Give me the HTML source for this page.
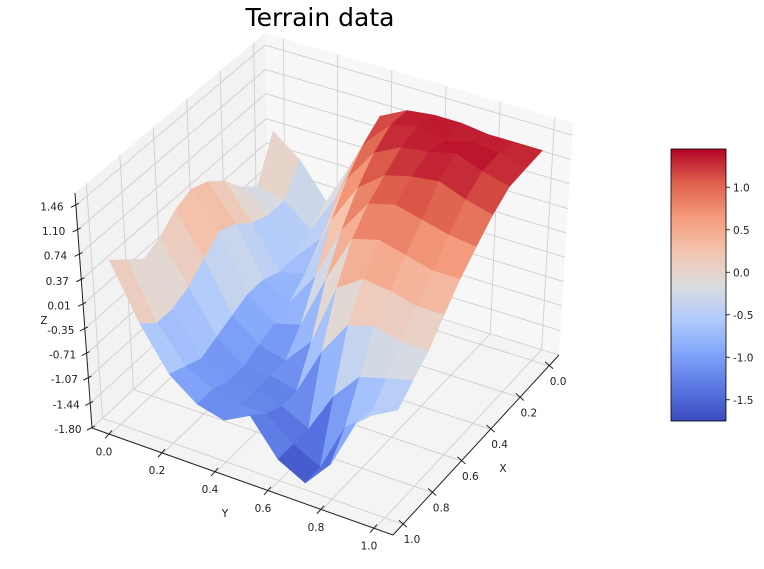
<!DOCTYPE html>
<html><head><meta charset="utf-8"><style>
body{margin:0;background:#fff;width:764px;height:564px;overflow:hidden;font-family:"Liberation Sans","DejaVu Sans",sans-serif}
svg text{font-family:"DejaVu Sans","Liberation Sans",sans-serif}
</style></head><body>
<svg id="chart" width="764" height="564" viewBox="0 0 764 564" xmlns="http://www.w3.org/2000/svg">
<text x="320" y="26" font-size="25" text-anchor="middle" fill="#000">Terrain data</text>
<g id="panes"></g>
<g id="grid"></g>
<g id="surface"></g>
<g id="axes"></g>
<g id="cbar"></g>
</svg>
<script>
// ---- data ----
const xTicks = [0.0, 0.2, 0.4, 0.6, 0.8, 1.0];
const yTicks = [0.0, 0.2, 0.4, 0.6, 0.8, 1.0];
const zTicks = [-1.80, -1.44, -1.07, -0.71, -0.35, 0.01, 0.37, 0.74, 1.10, 1.46];
const zTickLabels = ["-1.80","-1.44","-1.07","-0.71","-0.35","0.01","0.37","0.74","1.10","1.46"];
const cbarTicks = [-1.5, -1.0, -0.5, 0.0, 0.5, 1.0];
const gridX = [0,0.1,0.2,0.3,0.4,0.5,0.6,0.7,0.8,0.9,1.0];
const gridY = [0,0.1,0.2,0.3,0.4,0.5,0.6,0.7,0.8,0.9,1.0];
// heights: rows = x index, cols = y index
const heights = [
 [0.4, 0.1,-0.4, 0.3, 1.1, 1.3, 1.35,1.35,1.3, 1.3, 1.3],
 [-0.2,-0.3,-0.6, 0.0, 0.9, 1.3, 1.4, 1.3, 1.4, 1.35,1.25],
 [0.0,-0.3,-0.8,-0.4, 0.6, 1.1, 1.3, 1.35,1.45,1.3, 1.2],
 [0.3,-0.2,-0.8,-0.7, 0.2, 0.8, 1.1, 1.2, 1.25,1.1, 1.0],
 [0.5, 0.0,-0.7,-0.9,-0.4, 0.4, 0.9, 1.0, 0.9, 0.8, 0.75],
 [0.6, 0.1,-0.7,-1.0,-0.9,-0.1, 0.6, 0.7, 0.6, 0.5, 0.5],
 [0.5,-0.1,-0.8,-1.1,-1.2,-0.8, 0.1, 0.35,0.3, 0.2, 0.2],
 [0.3,-0.3,-0.9,-1.2,-1.2,-1.3,-0.6,-0.1, 0.0,-0.1,-0.1],
 [0.2,-0.4,-1.0,-1.2,-1.2,-1.3,-1.5,-0.9,-0.5,-0.4,-0.3],
 [0.4,-0.4,-0.9,-1.1,-1.2,-1.2,-1.5,-1.7,-1.0,-0.7,-0.5],
 [0.6,-0.2,-0.8,-1.1,-1.2,-1.0,-1.5,-1.7,-1.3,-0.6,-0.2]
];
// ---- projection ----
const XMIN=-0.068, XMAX=1.068, YMIN=-0.068, YMAX=1.068, ZMIN=-1.80, ZMAX=1.64;
const VMIN=-1.75, VMAX=1.45;
const FB=[268,265],FL=[92,428],FR=[559,355],FF=[393,535];
const TB=[265,33],TL=[75,193],TR=[573,123],TF=[385,288];
function bil(A,B,C,D,u,v){
  return [(1-u)*(1-v)*A[0]+u*(1-v)*B[0]+(1-u)*v*C[0]+u*v*D[0],
          (1-u)*(1-v)*A[1]+u*(1-v)*B[1]+(1-u)*v*C[1]+u*v*D[1]];
}
function P(x,y,z){
  const u=(x-XMIN)/(XMAX-XMIN), v=(y-YMIN)/(YMAX-YMIN), t=(z-ZMIN)/(ZMAX-ZMIN);
  const f=bil(FB,FL,FR,FF,u,v), tp=bil(TB,TL,TR,TF,u,v);
  return [f[0]+(tp[0]-f[0])*t, f[1]+(tp[1]-f[1])*t];
}
const cm=[[59,76,192],[90,120,226],[130,165,251],[176,203,252],[221,221,221],[244,196,173],[244,154,123],[222,96,76],[180,4,38]];
function color(val){
  let s=(val-VMIN)/(VMAX-VMIN); s=Math.max(0,Math.min(1,s))*8;
  const i=Math.min(7,Math.floor(s)), f=s-i, a=cm[i], b=cm[i+1];
  return `rgb(${Math.round(a[0]+(b[0]-a[0])*f)},${Math.round(a[1]+(b[1]-a[1])*f)},${Math.round(a[2]+(b[2]-a[2])*f)})`;
}
const NS='http://www.w3.org/2000/svg';
function el(tag,attrs,parent){const e=document.createElementNS(NS,tag);for(const k in attrs)e.setAttribute(k,attrs[k]);parent.appendChild(e);return e;}
const pts=a=>a.map(p=>p[0].toFixed(1)+','+p[1].toFixed(1)).join(' ');
// panes
const panes=document.getElementById('panes');
let pn=el('polygon',{points:pts([P(XMIN,YMIN,ZMIN),P(XMAX,YMIN,ZMIN),P(XMAX,YMIN,ZMAX),P(XMIN,YMIN,ZMAX)]),fill:'#f2f2f2'},panes);

pn=el('polygon',{points:pts([P(XMIN,YMIN,ZMIN),P(XMIN,YMAX,ZMIN),P(XMIN,YMAX,ZMAX),P(XMIN,YMIN,ZMAX)]),fill:'#f7f7f7'},panes);

pn=el('polygon',{points:pts([P(XMIN,YMIN,ZMIN),P(XMAX,YMIN,ZMIN),P(XMAX,YMAX,ZMIN),P(XMIN,YMAX,ZMIN)]),fill:'#f4f4f4'},panes);

// grid
const grid=document.getElementById('grid');
function gl(a,b){const l=el('line',{x1:a[0],y1:a[1],x2:b[0],y2:b[1],stroke:'#cfcfcf','stroke-width':0.9},grid);
 }
xTicks.forEach(x=>{gl(P(x,YMIN,ZMIN),P(x,YMAX,ZMIN));gl(P(x,YMIN,ZMIN),P(x,YMIN,ZMAX));});
yTicks.forEach(y=>{gl(P(XMIN,y,ZMIN),P(XMAX,y,ZMIN));gl(P(XMIN,y,ZMIN),P(XMIN,y,ZMAX));});
zTicks.forEach(z=>{gl(P(XMIN,YMIN,z),P(XMAX,YMIN,z));gl(P(XMIN,YMIN,z),P(XMIN,YMAX,z));});
// surface
const surf=document.getElementById('surface');
const quads=[];
for(let i=0;i<gridX.length-1;i++)for(let j=0;j<gridY.length-1;j++){
  const zs=[heights[i][j],heights[i+1][j],heights[i+1][j+1],heights[i][j+1]];
  const avg=(zs[0]+zs[1]+zs[2]+zs[3])/4;
  quads.push({i,j,avg,depth:gridX[i]+gridX[i+1]+gridY[j]+gridY[j+1]});
}
quads.sort((a,b)=>a.depth-b.depth);
quads.forEach(q=>{
  const i=q.i,j=q.j;
  const poly=[P(gridX[i],gridY[j],heights[i][j]),P(gridX[i+1],gridY[j],heights[i+1][j]),
              P(gridX[i+1],gridY[j+1],heights[i+1][j+1]),P(gridX[i],gridY[j+1],heights[i][j+1])];
  const c=color(q.avg);
  const p=el('polygon',{points:pts(poly),fill:c,stroke:c,'stroke-width':0.8,'stroke-linejoin':'round'},surf);
  
  
});
// axes
const ax=document.getElementById('axes');
function al(a,b,name){const l=el('line',{x1:a[0],y1:a[1],x2:b[0],y2:b[1],stroke:'#222','stroke-width':1},ax);
 return l;}
function tx(x,y,s,name,anchor,size){const t=el('text',{x:x,y:y,'font-size':size||10.5,'text-anchor':anchor||'middle',fill:'#222'},ax);t.textContent=s;
 return t;}
al(P(XMIN,YMAX,ZMIN),P(XMAX,YMAX,ZMIN),'x-axis-line');
al(P(XMAX,YMIN,ZMIN),P(XMAX,YMAX,ZMIN),'y-axis-line');
al(P(XMAX,YMIN,ZMIN),P(XMAX,YMIN,ZMAX),'z-axis-line');
xTicks.forEach(x=>{const p=P(x,YMAX,ZMIN);al([p[0]-4,p[1]-4],[p[0]+4,p[1]+3],'x-tick');tx(p[0]+9,p[1]+19,x.toFixed(1),'x-tick-label');});
yTicks.forEach(y=>{const p=P(XMAX,y,ZMIN);al([p[0]+2,p[1]-4],[p[0]-5,p[1]+4],'y-tick');tx(p[0]-6,p[1]+21,y.toFixed(1),'y-tick-label');});
zTicks.forEach((z,k)=>{const p=P(XMAX,YMIN,z);al([p[0]+3,p[1]-2],[p[0]-5,p[1]+2],'z-tick');tx(p[0]-24,p[1]+5,zTickLabels[k],'z-tick-label');});
tx(503,472,'X','x-axis-title');
tx(225,517,'Y','y-axis-title');
tx(44,324,'Z','z-axis-title');
// colorbar
const cb=document.getElementById('cbar');
const CX=671,CY=149,CW=55,CH=272;
const defs=el('defs',{},cb);
const lg=el('linearGradient',{id:'cg',x1:0,y1:1,x2:0,y2:0},defs);
for(let k=0;k<=8;k++){el('stop',{offset:(k/8),'stop-color':`rgb(${cm[k].join(',')})`},lg);}
const r=el('rect',{x:CX,y:CY,width:CW,height:CH,fill:'url(#cg)',stroke:'#000','stroke-width':0.8},cb);

cbarTicks.forEach(v=>{
  const y=CY+CH*(VMAX-v)/(VMAX-VMIN);
  const l=el('line',{x1:CX+CW,y1:y,x2:CX+CW+4,y2:y,stroke:'#000','stroke-width':0.8},cb);
  
  const t=el('text',{x:CX+CW+7,y:y+4,'font-size':10.5,fill:'#222'},cb);t.textContent=v.toFixed(1);
  
});
</script>
</body></html>
